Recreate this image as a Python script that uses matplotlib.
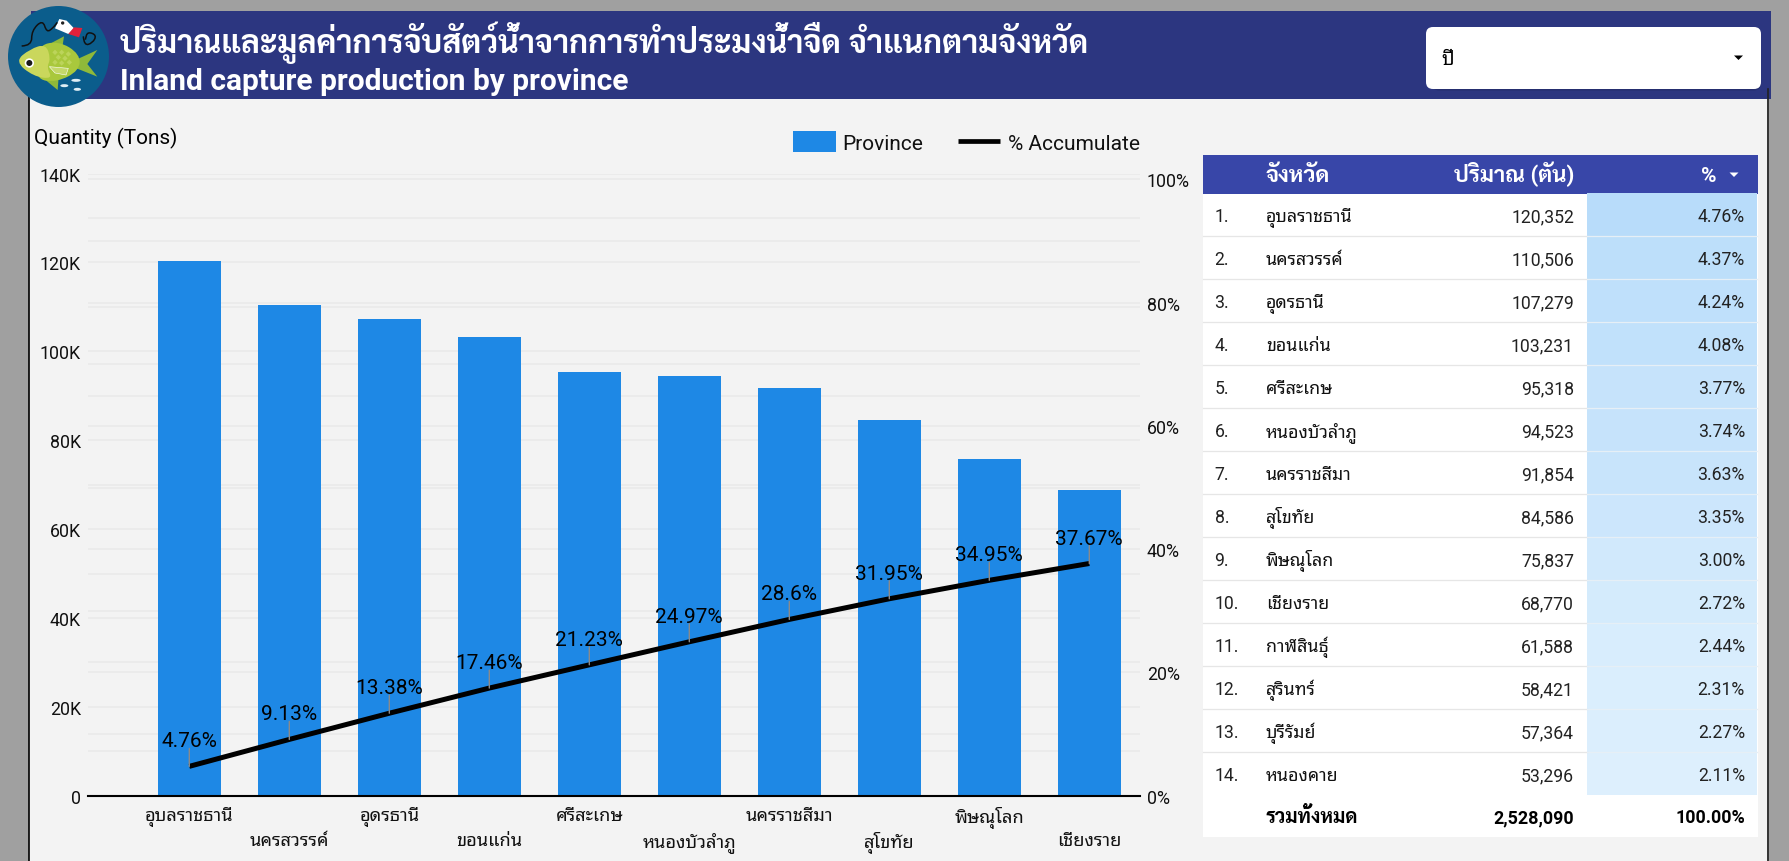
# ==========================================
# Inland capture production by province
# ==========================================

import matplotlib
matplotlib.use("Agg")
import matplotlib.pyplot as plt
from matplotlib.patches import Rectangle, Circle, Ellipse, Polygon, FancyBboxPatch, PathPatch
from matplotlib.path import Path

# ==========================================
# DATA
# ==========================================

province_names = [
    "อุบลราชธานี", "นครสวรรค์", "อุดรธานี", "ขอนแก่น", "ศรีสะเกษ",
    "หนองบัวลำภู", "นครราชสีมา", "สุโขทัย", "พิษณุโลก", "เชียงราย",
    "กาฬสินธุ์", "สุรินทร์", "บุรีรัมย์", "หนองคาย"
]
quantity_tons = [
    120352, 110506, 107279, 103231, 95318, 94523, 91854,
    84586, 75837, 68770, 61588, 58421, 57364, 53296
]
share_pct = [
    4.76, 4.37, 4.24, 4.08, 3.77, 3.74, 3.63,
    3.35, 3.00, 2.72, 2.44, 2.31, 2.27, 2.11
]
accumulate_pct = [4.76, 9.13, 13.38, 17.46, 21.23, 24.97, 28.6, 31.95, 34.95, 37.67]
accumulate_labels = ["4.76%", "9.13%", "13.38%", "17.46%", "21.23%",
                     "24.97%", "28.6%", "31.95%", "34.95%", "37.67%"]
qty_ticks = [0, 20000, 40000, 60000, 80000, 100000, 120000, 140000]
qty_tick_labels = ["0", "20K", "40K", "60K", "80K", "100K", "120K", "140K"]
pct_ticks = [0, 20, 40, 60, 80, 100]
pct_tick_labels = ["0%", "20%", "40%", "60%", "80%", "100%"]
total_quantity = "2,528,090"
total_share = "100.00%"

# ==========================================
# FONTS / COLOURS
# ==========================================

FONT = ["Roboto", "Noto Sans Thai Looped", "Noto Sans Thai", "DejaVu Sans"]
FONT_BOLD = ["Roboto", "Sarabun", "Noto Sans Thai", "DejaVu Sans"]
plt.rcParams["font.family"] = FONT

WIDTH, HEIGHT = 1789, 862
GRAY = "#a0a0a0"
PANEL = "#f3f3f3"
NAVY = "#2c3680"
TABLE_HEAD = "#3846a8"
BAR = "#1e88e5"
GRID = "#eaeaea"
HEAT_HIGH = (0xb8, 0xdc, 0xfa)
HEAT_LOW = (0xdd, 0xef, 0xfd)


def heat_colour(value):
    t = (value - min(quantity_tons)) / (max(quantity_tons) - min(quantity_tons))
    return tuple((lo + (hi - lo) * t) / 255 for hi, lo in zip(HEAT_HIGH, HEAT_LOW))


# ==========================================
# PAGE (pixel coordinates)
# ==========================================

fig = plt.figure(figsize=(WIDTH / 100, HEIGHT / 100), dpi=100, facecolor=GRAY)

page = fig.add_axes([0, 0, 1, 1], zorder=0)
page.set_xlim(0, WIDTH)
page.set_ylim(HEIGHT, 0)
page.axis("off")

page.add_patch(Rectangle((29, 90), 1738, HEIGHT - 90, fc=PANEL, ec="none"))
page.plot([29, 29], [90, HEIGHT], color="black", lw=1.2)
page.plot([1767.5, 1767.5], [90, HEIGHT], color="#222222", lw=1.2)
page.add_patch(Rectangle((31, 12), 1740, 88, fc=NAVY, ec="none"))

page.text(120, 53, "ปริมาณและมูลค่าการจับสัตว์น้ำจากการทำประมงน้ำจืด จำแนกตามจังหวัด",
          family=FONT_BOLD, weight="bold", color="white", fontsize=22.9, va="baseline")
page.text(120, 90, "Inland capture production by province",
          family=FONT_BOLD, weight="bold", color="white", fontsize=21.5, va="baseline")

# year filter box
page.add_patch(FancyBboxPatch((1432, 33), 329, 58.5, boxstyle="round,pad=0,rounding_size=7",
                              fc="#1f2860", ec="none", alpha=0.5))
page.add_patch(FancyBboxPatch((1426, 28), 335, 62, boxstyle="round,pad=0,rounding_size=7",
                              fc="white", ec="none"))
page.text(1441, 65, "ปี", color="black", fontsize=14, va="baseline")
page.add_patch(Polygon([[1734, 56.5], [1743, 56.5], [1738.5, 61]], fc="black", ec="none"))

# ==========================================
# LOGO
# ==========================================


def logo(points):
    return [[x / 3, y / 3] for x, y in points]


def smooth_path(points, closed=True):
    # control points -> rounded outline
    pts = logo(points)
    if closed:
        mids = [[(a[0] + b[0]) / 2, (a[1] + b[1]) / 2] for a, b in zip(pts, pts[1:] + pts[:1])]
        verts = [mids[-1]]
        codes = [Path.MOVETO]
        for p, m in zip(pts, mids):
            verts += [p, m]
            codes += [Path.CURVE3, Path.CURVE3]
        return Path(verts, codes)
    verts = [pts[0]]
    codes = [Path.MOVETO]
    for a, b in zip(pts[1:-1], pts[2:]):
        m = [(a[0] + b[0]) / 2, (a[1] + b[1]) / 2]
        verts += [a, m]
        codes += [Path.CURVE3, Path.CURVE3]
    verts.append(pts[-1])
    codes.append(Path.LINETO)
    return Path(verts, codes)


page.add_patch(Circle((58.5, 57.5), 50.5, fc="#0b5d8c", ec="none", zorder=3))

logo_fins = [
    ("#8fb93a", [(222, 185), (292, 153), (262, 195), (292, 233), (222, 205)]),
    ("#8fb93a", [(135, 142), (192, 112), (186, 152)]),
    ("#8fb93a", [(128, 236), (173, 273), (176, 232)]),
]
for colour, pts in logo_fins:
    page.add_patch(Polygon(logo(pts), fc=colour, ec="none", zorder=4))

# body, head and pectoral fin
page.add_patch(PathPatch(smooth_path([(110, 142), (175, 125), (240, 165), (238, 215), (170, 250), (105, 240)]),
                         fc="#a9c83c", ec="none", zorder=4))
page.add_patch(PathPatch(smooth_path([(45, 187), (90, 150), (138, 135), (152, 180), (140, 205), (158, 240), (100, 232)]),
                         fc="#cad75c", ec="none", zorder=4))
page.add_patch(Polygon(logo([(148, 203), (205, 208), (198, 228), (165, 222)]), fc="#c5d86a", ec="white", lw=0.4, zorder=5))
for x, y in [(165, 160), (185, 160), (205, 165), (175, 175), (195, 178), (165, 190), (185, 192), (208, 190)]:
    page.add_patch(Polygon(logo([(x - 8, y), (x, y - 8), (x + 8, y), (x, y + 8)]), fc="#bcd45a", ec="none", zorder=5))
page.add_patch(Circle((88 / 3, 192 / 3), 14 / 3, fc="white", ec="none", zorder=5))
page.add_patch(Circle((88 / 3, 192 / 3), 9 / 3, fc="#1a1a1a", ec="none", zorder=6))

# bubbles
for x, y, w in [(228, 244, 28), (193, 260, 24), (232, 271, 22)]:
    page.add_patch(Ellipse((x / 3, y / 3), w / 3, 9 / 3, fc="#dfeef5", ec="none", zorder=5))

# lure, fishing line and hook
page.add_patch(Polygon(logo([(165, 88), (178, 60), (200, 65), (222, 88), (205, 105)]), fc="white", ec="none", zorder=5))
page.add_patch(Polygon(logo([(222, 85), (247, 87), (237, 115), (205, 105)]), fc="#e0203a", ec="none", zorder=5))
page.add_patch(Circle((188 / 3, 72 / 3), 5 / 3, fc="#222222", ec="none", zorder=6))
page.add_patch(PathPatch(smooth_path([(65, 141), (95, 140), (95, 95), (128, 62), (140, 100), (158, 88), (172, 70)], closed=False),
                         fc="none", ec="#111111", lw=1.1, zorder=5))
page.add_patch(PathPatch(smooth_path([(250, 112), (252, 140), (278, 132), (290, 108), (262, 98), (256, 122)], closed=False),
                         fc="none", ec="#111111", lw=1.1, zorder=5))

# ==========================================
# LEGEND / AXIS TITLE
# ==========================================

page.text(34.5, 144, "Quantity (Tons)", color="black", fontsize=15, va="baseline")
page.add_patch(Rectangle((793, 132), 43, 20.5, fc=BAR, ec="none"))
page.text(842.5, 150, "Province", color="#111111", fontsize=15, va="baseline")
page.plot([958, 1000], [142, 142], color="black", lw=3.4, solid_capstyle="butt")
page.text(1008, 150, "% Accumulate", color="#111111", fontsize=15, va="baseline")

# ==========================================
# CHART
# ==========================================

AX_LEFT, AX_RIGHT, AX_TOP, AX_BOTTOM = 88, 1140, 174.6, 796.7
PCT_TOP_PX = 180.3
FIRST_CENTER, STEP = 189.3, 100.0

ax = fig.add_axes([AX_LEFT / WIDTH, 1 - AX_BOTTOM / HEIGHT,
                   (AX_RIGHT - AX_LEFT) / WIDTH, (AX_BOTTOM - AX_TOP) / HEIGHT], zorder=1)
ax.patch.set_visible(False)

positions = list(range(10))
ax.bar(positions, quantity_tons[:10], width=0.635, color=BAR, zorder=3)
ax.set_xlim((AX_LEFT - FIRST_CENTER) / STEP, (AX_RIGHT - FIRST_CENTER) / STEP)
ax.set_ylim(0, 140000)

pct_top = 100 * (AX_BOTTOM - AX_TOP) / (AX_BOTTOM - PCT_TOP_PX)
scale = 140000 / pct_top

for q in range(0, 150000, 10000):
    ax.axhline(q, color=GRID, lw=1.2, zorder=1)
for p in range(10, 110, 10):
    ax.axhline(p * scale, color=GRID, lw=1.2, zorder=1)

ax.set_yticks(qty_ticks, qty_tick_labels)
ax.set_xticks(positions, province_names[:10])
ax.tick_params(axis="y", length=0, pad=5, labelsize=12.8, labelcolor="#111111")
ax.tick_params(axis="x", length=0, labelsize=13.1, labelcolor="#111111")
for i, tick in enumerate(ax.xaxis.get_major_ticks()):
    tick.set_pad(7.5 if i % 2 == 0 else 25.2)

for side in ["top", "left", "right"]:
    ax.spines[side].set_visible(False)
ax.spines["bottom"].set_linewidth(1.5)
ax.spines["bottom"].set_color("black")
ax.spines["bottom"].set_zorder(4)

# percent axis and accumulate line
ax_pct = ax.twinx()
ax_pct.set_zorder(2)
ax_pct.patch.set_visible(False)
ax_pct.set_ylim(0, pct_top)
ax_pct.set_yticks(pct_ticks, pct_tick_labels)
ax_pct.tick_params(axis="y", length=0, pad=5, labelsize=12.8, labelcolor="#111111")
for side in ["top", "left", "right", "bottom"]:
    ax_pct.spines[side].set_visible(False)

ax_pct.plot(positions, accumulate_pct, color="black", lw=3.6, solid_capstyle="butt", zorder=3)

for x, y, label in zip(positions, accumulate_pct, accumulate_labels):
    # leader line, then the label on top of it
    ax_pct.annotate(
        "", xy=(x, y), xytext=(0, 18), textcoords="offset pixels",
        arrowprops=dict(arrowstyle="-", color="#8a8a8a", lw=1.0, shrinkA=0, shrinkB=0),
        zorder=4
    )
    ax_pct.annotate(
        label, xy=(x, y), xytext=(0, 16), textcoords="offset pixels",
        ha="center", va="bottom", fontsize=15, color="black", zorder=4
    )

# ==========================================
# TABLE
# ==========================================

TABLE_LEFT, TABLE_RIGHT = 1203, 1758
HEAD_TOP, ROW_TOP, ROW_H = 156, 194.3, 43.0
HEAT_LEFT, HEAT_RIGHT = 1587, 1757
RANK_X, NAME_X, QTY_X, PCT_X = 1214.5, 1266, 1574, 1745

page.add_patch(Rectangle((TABLE_LEFT, ROW_TOP), TABLE_RIGHT - TABLE_LEFT, 838 - ROW_TOP, fc="white", ec="none"))
page.add_patch(Rectangle((TABLE_LEFT, HEAD_TOP), TABLE_RIGHT - TABLE_LEFT, ROW_TOP + 0.7 - HEAD_TOP,
                         fc=TABLE_HEAD, ec="none"))

head_base = 182
page.text(NAME_X, head_base, "จังหวัด", family=FONT_BOLD, weight="bold", color="white",
          fontsize=16.3, va="baseline")
page.text(QTY_X, head_base, "ปริมาณ (ตัน)", family=FONT_BOLD, weight="bold", color="white",
          fontsize=16, ha="right", va="baseline")
page.text(1716.5, head_base, "%", family=FONT_BOLD, weight="bold", color="white",
          fontsize=15, ha="right", va="baseline")
page.add_patch(Polygon([[1729.5, 173.5], [1738.5, 173.5], [1734, 178]], fc="white", ec="none"))

for i, (name, qty, pct) in enumerate(zip(province_names, quantity_tons, share_pct)):
    top = ROW_TOP + i * ROW_H
    base = top + ROW_H / 2 + 6.5
    page.add_patch(Rectangle((HEAT_LEFT, top), HEAT_RIGHT - HEAT_LEFT, ROW_H, fc=heat_colour(qty), ec="none"))
    if i < 13:
        page.plot([TABLE_LEFT, HEAT_LEFT], [top + ROW_H, top + ROW_H], color="#e6e6e6", lw=0.9, zorder=2)
        page.plot([HEAT_LEFT, HEAT_RIGHT], [top + ROW_H, top + ROW_H], color="#e6eff6", lw=0.9, zorder=2)
    page.text(RANK_X, base, f"{i + 1}.", color="#222222", fontsize=12.7, va="baseline", zorder=3)
    page.text(NAME_X, base, name, color="#111111", fontsize=12.8, va="baseline", zorder=3)
    page.text(QTY_X, base, f"{qty:,}", color="#222222", fontsize=12.7, ha="right", va="baseline", zorder=3)
    page.text(PCT_X, base, f"{pct:.2f}%", color="#222222", fontsize=12.7, ha="right", va="baseline", zorder=3)

total_base = 823
page.text(NAME_X, total_base, "รวมทั้งหมด", family=FONT_BOLD, weight="bold", color="black",
          fontsize=14.1, va="baseline")
page.text(QTY_X, total_base, total_quantity, family=FONT_BOLD, weight="bold", color="black",
          fontsize=12.9, ha="right", va="baseline")
page.text(PCT_X, total_base, total_share, family=FONT_BOLD, weight="bold", color="black",
          fontsize=12.9, ha="right", va="baseline")

fig.savefig("out.png", dpi=100, facecolor=GRAY)
